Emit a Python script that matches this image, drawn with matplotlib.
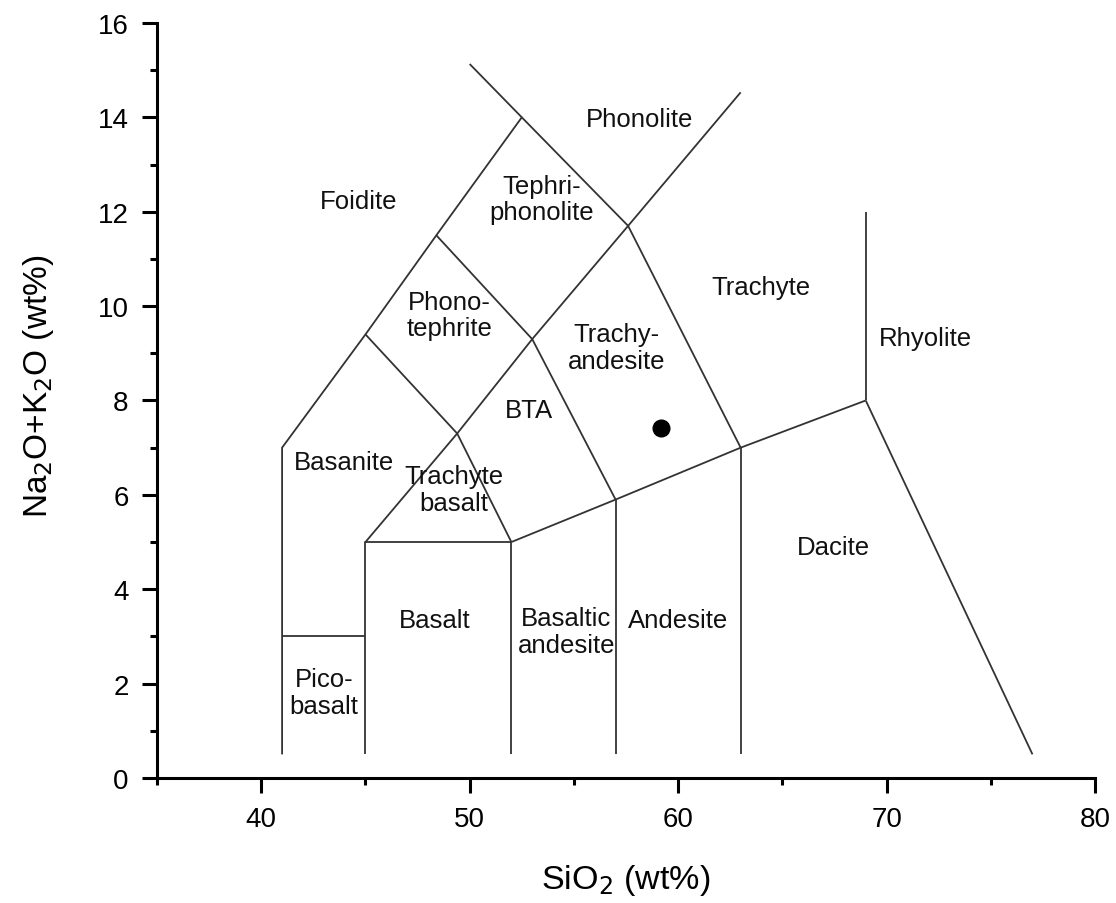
import matplotlib
matplotlib.use("Agg")
import matplotlib.pyplot as plt
from matplotlib.ticker import MultipleLocator

plt.rcParams['font.family'] = ['Liberation Sans', 'DejaVu Sans']

# TAS boundary polylines (SiO2, Na2O+K2O)
boundary_x = [
    [41, 41, 45, 48.4, 52.5, 50.0],          # basanite/foidite left edge up to phonolite line
    [45, 45, 52, 52],                        # basalt box
    [41, 45],                                # picobasalt top
    [45, 49.4, 53, 57.6, 63.0],              # trachybasalt-BTA-trachyandesite-trachyte line
    [52, 57, 63, 69],                        # lower alkaline boundary
    [57, 57],                                # basaltic andesite / andesite
    [63, 63],                                # andesite / dacite
    [69, 69],                                # rhyolite line
    [69, 77],                                # dacite / rhyolite lower
    [45, 49.4, 52],                          # basanite/trachybasalt
    [53, 57],                                # BTA / trachyandesite
    [57.6, 63],                              # trachyandesite / trachyte
    [48.4, 53],                              # phonotephrite / tephriphonolite
    [52.5, 57.6],                            # tephriphonolite / phonolite
]
boundary_y = [
    [0.5, 7, 9.4, 11.5, 14, 15.13],
    [0.5, 5, 5, 0.5],
    [3, 3],
    [5, 7.3, 9.3, 11.7, 14.53],
    [5, 5.9, 7, 8],
    [0.5, 5.9],
    [0.5, 7],
    [8, 12],
    [8, 0.5],
    [9.4, 7.3, 5],
    [9.3, 5.9],
    [11.7, 7],
    [11.5, 9.3],
    [14, 11.7],
]

# region labels
label_text = ["Phonolite", "Foidite", "Tephri-\nphonolite", "Phono-\ntephrite", "Trachyte",
              "Rhyolite", "Trachy-\nandesite", "BTA", "Basanite", "Trachyte\nbasalt",
              "Dacite", "Basalt", "Basaltic\nandesite", "Andesite", "Pico-\nbasalt"]
label_x = [58.13, 44.69, 53.44, 49.04, 63.97, 71.87, 57.03, 52.82, 43.97, 49.23,
           67.46, 48.33, 54.64, 60.0, 43.01]
label_y = [13.96, 12.22, 12.27, 9.81, 10.40, 9.32, 9.13, 7.80, 6.69, 6.12,
           4.89, 3.35, 3.11, 3.35, 1.82]

# sample
sample_sio2 = [59.2]
sample_alk = [7.42]

fig = plt.figure(figsize=(11.16, 9.04), dpi=100)
ax = fig.add_axes([0.1407, 0.1383, 0.8405, 0.8352])

for bx, by in zip(boundary_x, boundary_y):
    ax.plot(bx, by, color='#333333', lw=1.3, solid_capstyle='butt')

for t, x, y in zip(label_text, label_x, label_y):
    ax.text(x, y, t, ha='center', va='center', fontsize=18.5, color='#111111',
            linespacing=1.15)

ax.plot(sample_sio2, sample_alk, 'o', color='black', markersize=12)

ax.set_xlim(35, 80)
ax.set_ylim(0, 16)
ax.xaxis.set_major_locator(MultipleLocator(10))
ax.xaxis.set_minor_locator(MultipleLocator(5))
ax.yaxis.set_major_locator(MultipleLocator(2))
ax.yaxis.set_minor_locator(MultipleLocator(1))
ax.spines['top'].set_visible(False)
ax.spines['right'].set_visible(False)
for s in ['left', 'bottom']:
    ax.spines[s].set_linewidth(2.2)
ax.tick_params(which='major', direction='out', length=10.5, width=2.2, labelsize=20, pad=10)
ax.tick_params(which='minor', direction='out', length=5, width=2.2)

ax.set_xlabel('SiO$_2$ (wt%)', fontsize=24.5, labelpad=21)
ax.set_ylabel('Na$_2$O+K$_2$O (wt%)', fontsize=24)
ax.yaxis.set_label_coords(-0.108, 0.52)

fig.savefig('out.png', dpi=100)
